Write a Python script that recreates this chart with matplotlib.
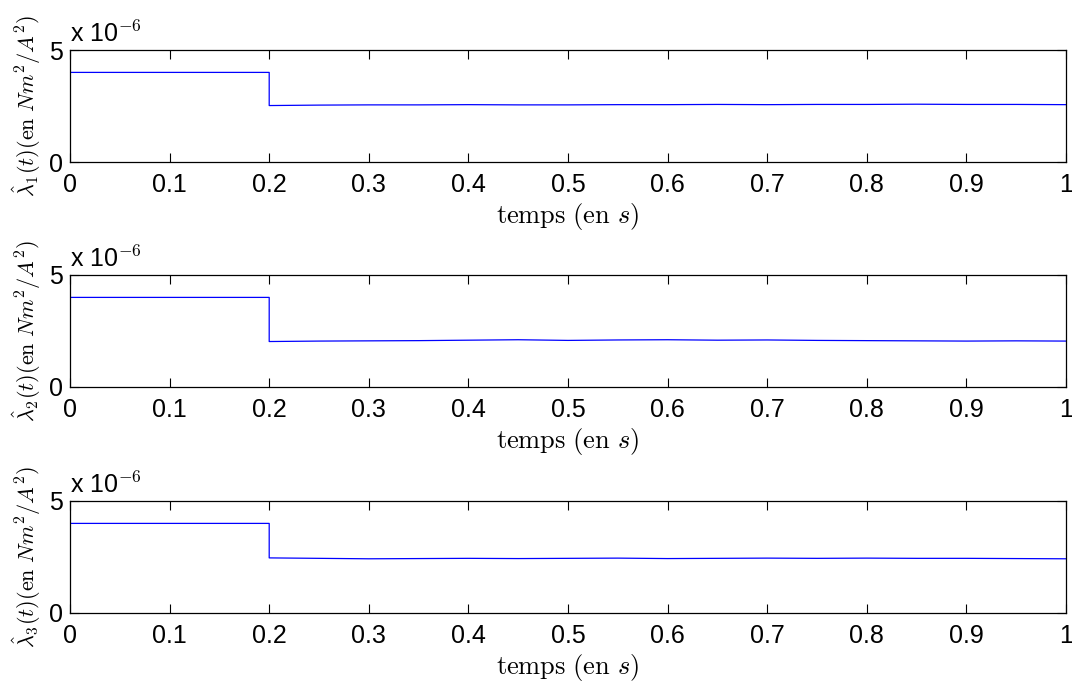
import matplotlib
matplotlib.use("Agg")
import matplotlib.pyplot as plt

plt.rcParams['font.family'] = ['Liberation Sans', 'DejaVu Sans']
plt.rcParams['mathtext.fontset'] = 'cm'

# valeurs en unités de 1e-6 (N m^2 / A^2)
t_step = [0.0, 0.2]
lam_init = [4.0, 4.0]
t_after = [0.2, 0.25, 0.3, 0.35, 0.4, 0.45, 0.5, 0.55, 0.6, 0.65,
           0.7, 0.75, 0.8, 0.85, 0.9, 0.95, 1.0]
lam1_after = [2.52, 2.54, 2.55, 2.55, 2.56, 2.55, 2.55, 2.56, 2.56, 2.57,
              2.56, 2.57, 2.57, 2.58, 2.57, 2.57, 2.56]
lam2_after = [2.03, 2.05, 2.06, 2.07, 2.09, 2.11, 2.08, 2.10, 2.11, 2.09,
              2.10, 2.08, 2.07, 2.06, 2.05, 2.06, 2.05]
lam3_after = [2.46, 2.44, 2.42, 2.43, 2.44, 2.43, 2.44, 2.45, 2.43, 2.44,
              2.45, 2.44, 2.45, 2.44, 2.44, 2.43, 2.42]
series = [lam1_after, lam2_after, lam3_after]

xticks = [0, 0.1, 0.2, 0.3, 0.4, 0.5, 0.6, 0.7, 0.8, 0.9, 1]
xticklabels = ['0', '0.1', '0.2', '0.3', '0.4', '0.5', '0.6', '0.7', '0.8', '0.9', '1']
yticks = [0, 5]

fig = plt.figure(figsize=(10.72, 6.84), dpi=100)
bottoms = [1 - 162 / 684, 1 - 387 / 684, 1 - 613 / 684]

for i, (b, vals) in enumerate(zip(bottoms, series)):
    ax = fig.add_axes([70 / 1072, b, 996 / 1072, 112 / 684])
    t = t_step + t_after
    y = lam_init + vals
    ax.plot(t, y, color=(0, 0, 1), linewidth=0.9)
    ax.set_xlim(0, 1)
    ax.set_ylim(0, 5)
    ax.set_xticks(xticks)
    ax.set_xticklabels(xticklabels)
    ax.set_yticks(yticks)
    ax.tick_params(direction='in', top=True, right=True, length=6.5,
                   width=0.8, labelsize=18)
    ax.tick_params(axis='x', pad=8)
    ax.tick_params(axis='y', pad=5)
    for sp in ax.spines.values():
        sp.set_linewidth(0.9)
    ax.set_xlabel(r'$\mathrm{temps\ (en\ }s\mathrm{)}$', fontsize=19, labelpad=3)
    ax.set_ylabel(r'$\hat{\lambda}_%d(t)(\mathrm{en}\ Nm^2/A^2)$' % (i + 1),
                  fontsize=16, labelpad=4)
    ax.text(0.0, 1.03, r'x 10$^{-6}$', transform=ax.transAxes,
            fontsize=18, ha='left', va='bottom')

fig.savefig('out.png', dpi=100)
